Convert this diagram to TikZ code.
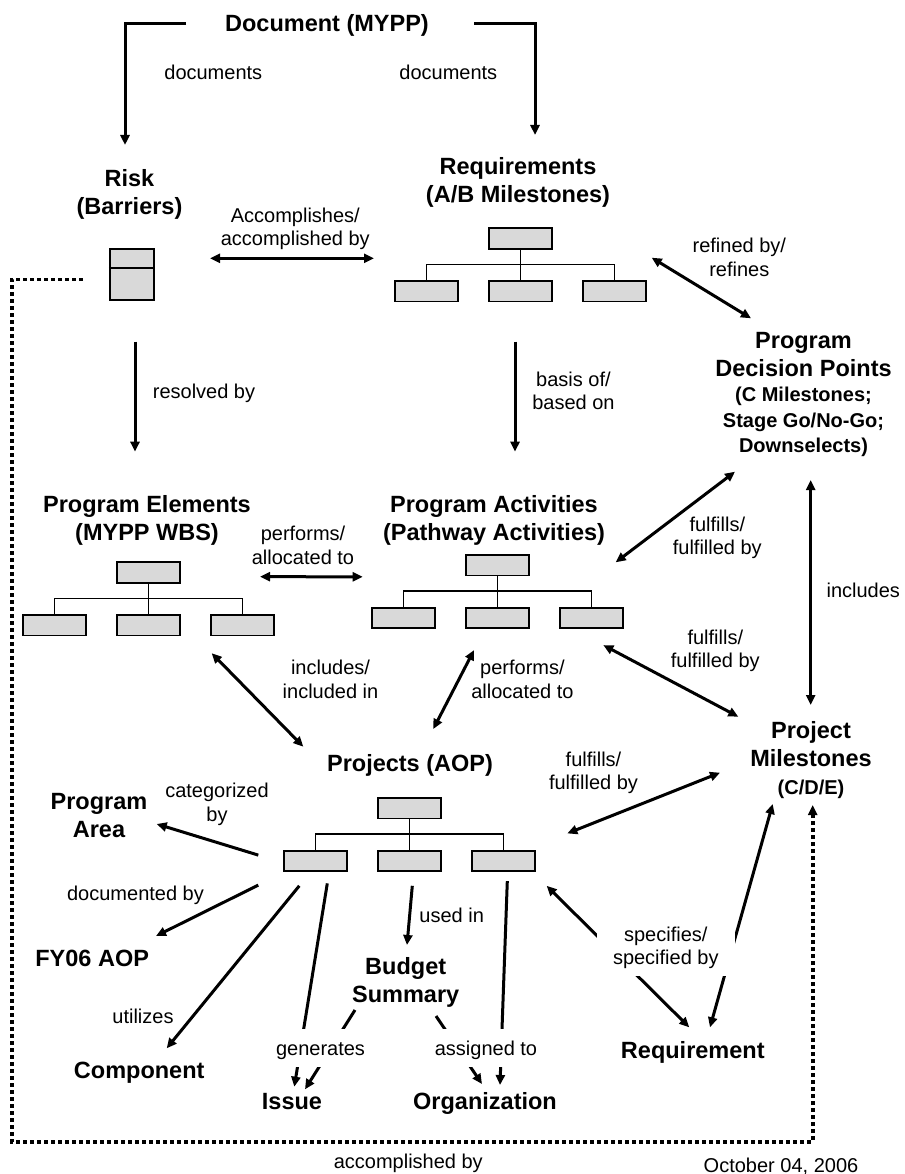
\documentclass[tikz,border=0pt]{standalone}
\usepackage{fontspec}
\setmainfont{Liberation Sans}
\usetikzlibrary{arrows.meta,calc}
\newcommand{\vstrut}{\vrule width 0pt height 0.9em depth 0.2em\relax}
\newcommand{\orgtree}[3]{%
  \node[tbox] (#1t) at (#2,#3) {};
  \node[tbox] (#1l) at ({#2-94},{#3+52.7}) {};
  \node[tbox] (#1m) at (#2,{#3+52.7}) {};
  \node[tbox] (#1r) at ({#2+94},{#3+52.7}) {};
  \draw[tline] (#1t.south) -- (#1m.north);
  \draw[tline] (#1l.north) -- ++(0,-15.5) -| (#1r.north);
}
\begin{document}
\begin{tikzpicture}[x=1pt,y=-1pt,
  ttl/.style={font=\bfseries\fontsize{23.5}{28}\selectfont, align=center, inner sep=0pt,
    execute at begin node=\vstrut, execute at end node=\vstrut},
  sub/.style={font=\bfseries\fontsize{20}{25.3}\selectfont, align=center, inner sep=0pt,
    execute at begin node=\vstrut, execute at end node=\vstrut},
  lbl/.style={font=\fontsize{20}{23.5}\selectfont, align=center, inner sep=0pt,
    execute at begin node=\vstrut, execute at end node=\vstrut},
  cut/.style={lbl, fill=white, inner xsep=4pt, inner ysep=8pt},
  tbox/.style={draw, line width=1.8pt, fill=gray!30, minimum width=63.5pt, minimum height=20.5pt, inner sep=0pt},
  tline/.style={line width=1.6pt},
  tip/.tip={Triangle[length=10pt,width=9pt]},
  arr/.style={line width=3pt, -tip},
  darr/.style={line width=3pt, tip-tip},
  dotarr/.style={line width=3.6pt, dash pattern=on 4pt off 3pt, -tip}
]
\useasboundingbox (0,0) rectangle (904,1174);

% titles
\node[ttl] (doc) at (327,23.3) {Document (MYPP)};
\node[ttl] (risk) at (129.5,194.2) {Risk\\(Barriers)};
\node[ttl] (req) at (518,182) {Requirements\\(A/B Milestones)};
\node[ttl] (pe) at (147,520.8) {Program Elements\\(MYPP WBS)};
\node[ttl] (pa) at (494,520.8) {Program Activities\\(Pathway Activities)};
\node[ttl] (pdp) at (803.5,356.3) {Program\\Decision Points};
\node[sub] (pdpsub) at (803.5,421.9) {(C Milestones;\\Stage Go/No-Go;\\Downselects)};
\node[ttl] (pm) at (811,746.3) {Project\\Milestones};
\node[sub] (pmsub) at (811,787.7) {(C/D/E)};
\node[ttl] (proj) at (410,763.3) {Projects (AOP)};
\node[ttl] (parea) at (99,817.8) {Program\\Area};
\node[ttl] (fy) at (92.2,958.3) {FY06 AOP};
\node[ttl] (comp) at (139.2,1070.7) {Component};
\node[ttl] (budget) at (405.7,982.5) {Budget\\Summary};
\node[ttl] (issue) at (292,1101.7) {Issue};
\node[ttl] (org) at (485,1101.7) {Organization};
\node[ttl] (rqmt) at (692.8,1050) {Requirement};

% risk box
\node[draw, line width=1.8pt, fill=gray!30, minimum width=44.5pt, minimum height=50.9pt, inner sep=0pt] (rbox) at (132,274.5) {};
\draw[tline] ($(rbox.north west)+(0,20)$) -- ($(rbox.north east)+(0,20)$);

% trees
\orgtree{req}{520.5}{238.5}
\orgtree{pe}{148.5}{572.5}
\orgtree{pa}{497.5}{565.2}
\orgtree{proj}{409.5}{808.2}

% connectors
\draw[arr] ($(doc)+(-141,0)$) -| ($(risk)+(-4.5,-49.2)$);
\draw[arr] ($(doc)+(147,0)$) -| ($(req)+(17,-47)$);
\draw[darr] ($(rbox)+(78,-16.2)$) -- ($(reql)+(-52.5,-32.9)$);
\draw[arr] ($(rbox)+(3,67.2)$) -- ($(pe)+(-12,-69.1)$);
\draw[arr] ($(reqm)+(-5.5,50.5)$) -- ($(pa)+(21,-69.1)$);
\draw[darr] ($(reqr)+(37.2,-33.5)$) -- ($(pdp)+(-52.5,-38)$);
\draw[darr] ($(pet)+(111.5,4.2)$) -- ($(pal)+(-40.8,-41.1)$);
\draw[darr] ($(pat)+(118.2,-2.9)$) -- ($(pdpsub)+(-68.5,49.8)$);
\draw[darr] ($(pdpsub)+(7.2,58.1)$) -- ($(pm)+(-0.3,-41.3)$);
\draw[darr] ($(par)+(11.8,27.2)$) -- ($(pm)+(-72.7,-29.6)$);
\draw[darr] ($(per)+(-30.8,28)$) -- ($(proj)+(-106.7,-16.6)$);
\draw[darr] ($(pam)+(-23.5,32.2)$) -- ($(proj)+(23.3,-34.3)$);
\draw[darr] ($(projr)+(63.8,-27.5)$) -- ($(pm)+(-91,26.4)$);
\draw[arr] ($(projl)+(-57.2,-5.8)$) -- ($(parea)+(57.7,6.2)$);
\draw[arr] ($(projl)+(-57.2,24.2)$) -- ($(fy)+(63.8,-22.3)$);
\draw[arr] ($(projl)+(-16.2,24.9)$) -- ($(comp)+(27.5,-22.4)$);
\draw[arr] ($(projl)+(11.8,22.5)$) -- ($(issue)+(2.3,-15)$);
\draw[arr] ($(budget)+(-50.7,27.5)$) -- ($(issue)+(13,-12.4)$);
\draw[arr] ($(projm)+(2.8,24.9)$) -- ($(budget)+(1.3,-37.5)$);
\draw[arr] ($(budget)+(30.3,33.5)$) -- ($(org)+(-3,-17.7)$);
\draw[arr] ($(projr)+(3.8,20.2)$) -- ($(org)+(15,-16.7)$);
\draw[darr] ($(projr)+(43.2,24.9)$) -- ($(rqmt)+(-3.5,-22.7)$);
\draw[darr] ($(pmsub)+(-38.3,16.3)$) -- ($(rqmt)+(17.2,-22.7)$);
\coordinate (dl) at (11.7,1141.7);
\draw[dotarr] ($(rbox)+(-49.3,4.8)$) -| (dl) -| ($(pmsub)+(1.7,17.3)$);

% labels
\node[lbl] (l1) at (213.3,72.7) {documents};
\node[lbl] (l2) at (448.3,72.7) {documents};
\node[lbl] (l3) at (295.3,228.7) {Accomplishes/\\accomplished by};
\node[lbl] (l4) at (204,391.7) {resolved by};
\node[lbl] (l5) at (573.4,393) {basis of/\\based on};
\node[lbl] (l6) at (739.3,259.5) {refined by/\\refines};
\node[lbl] (l7) at (303,547) {performs/\\allocated to};
\node[lbl] (l8) at (717.3,537.7) {fulfills/\\fulfilled by};
\node[lbl] (l9) at (863.3,590.7) {includes};
\node[lbl] (l10) at (330.5,681.3) {includes/\\included in};
\node[lbl] (l11) at (522.4,681.3) {performs/\\allocated to};
\node[lbl] (l12) at (715.3,651) {fulfills/\\fulfilled by};
\node[lbl] (l13) at (593.5,772.8) {fulfills/\\fulfilled by};
\node[lbl] (l14) at (217,804.2) {categorized\\by};
\node[lbl] (l15) at (135.5,894) {documented by};
\node[lbl] (l16) at (451.7,915.7) {used in};
\node[lbl] (l17) at (143,1016.7) {utilizes};
\node[cut] (l18) at (320.5,1048.3) {generates};
\node[cut] (l19) at (486,1048.3) {assigned to};
\node[cut, inner xsep=16pt, inner ysep=7pt] (l20) at (665.8,948) {specifies/\\specified by};
\node[lbl] (l21) at (408.3,1161.7) {accomplished by};
\node[lbl] (date) at (781,1165) {October 04, 2006};
\end{tikzpicture}
\end{document}
